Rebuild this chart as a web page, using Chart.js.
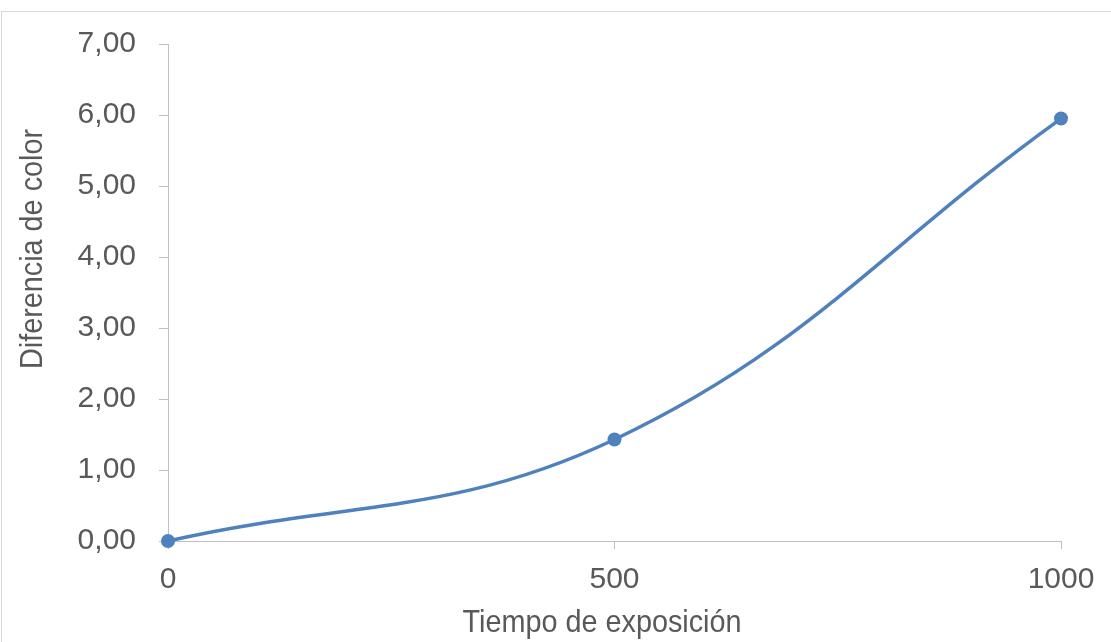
<!DOCTYPE html>
<html>
<head>
<meta charset="utf-8">
<script src="https://cdn.jsdelivr.net/npm/chart.js@4/dist/chart.umd.min.js"></script>
<style>
  html, body { margin: 0; padding: 0; background: #fff; }
  canvas { display: block; }
</style>
</head>
<body>
<canvas id="myChart" width="1111" height="642"></canvas>
<script>
// Tiempo de exposición vs. diferencia de color
const tiempos = [0, 500, 1000];
const diferencias = [0, 1.43, 5.95];
const yTicks = [0, 1, 2, 3, 4, 5, 6, 7];
const xTicks = [0, 500, 1000];

const xTitle = 'Tiempo de exposición';
const yTitle = 'Diferencia de color';

const textColor = '#595959';
const axisColor = '#bfbfbf';
const lineColor = '#4f81bd';
const fontFamily = '"Liberation Sans Narrow", "Arial Narrow", "Liberation Sans", sans-serif';

const ctx = document.getElementById('myChart').getContext('2d');

// white background and the light frame round the chart
const frame = {
  id: 'frame',
  beforeDraw(chart) {
    const c = chart.ctx;
    c.save();
    c.fillStyle = '#fff';
    c.fillRect(0, 0, chart.width, chart.height);
    c.strokeStyle = '#d9d9d9';
    c.lineWidth = 1;
    c.strokeRect(1.5, 11.5, chart.width + 100, chart.height + 100);
    c.restore();
  }
};

// axis titles, drawn a little narrower than the plain font
const axisTitles = {
  id: 'axisTitles',
  afterDraw(chart) {
    const c = chart.ctx;
    c.save();
    c.fillStyle = textColor;
    c.font = '32px ' + fontFamily;
    c.textAlign = 'center';
    c.textBaseline = 'alphabetic';
    c.save();
    c.translate(602, 631.5);
    c.scale(0.9, 1);
    c.fillText(xTitle, 0, 0);
    c.restore();
    c.translate(41.7, 249);
    c.rotate(-Math.PI / 2);
    c.scale(0.9, 1);
    c.fillText(yTitle, 0, 0);
    c.restore();
  }
};

const data = {
  datasets: [
    {
      label: 'Diferencia de color',
      data: tiempos.map((t, i) => ({x: t, y: diferencias[i]})),
      borderColor: lineColor,
      backgroundColor: lineColor,
      borderWidth: 3.5,
      tension: 0.4,
      pointRadius: 7,
      pointBorderWidth: 0,
      pointBackgroundColor: lineColor,
      clip: false,
    }
  ]
};

const myChart = new Chart(ctx, {
  type: 'line',
  data: data,
  plugins: [frame, axisTitles],
  options: {
    responsive: false,
    animation: false,
    layout: {
      padding: {left: 0, top: 44, right: 50, bottom: 0}
    },
    plugins: {
      legend: {display: false},
      tooltip: {enabled: false}
    },
    scales: {
      x: {
        type: 'linear',
        min: xTicks[0],
        max: xTicks[xTicks.length - 1],
        afterBuildTicks: (scale) => { scale.ticks = xTicks.map(v => ({value: v})); },
        afterFit: (scale) => {
          scale.height = 101;
          scale.paddingLeft = 0;
          scale.paddingRight = 0;
        },
        grid: {
          drawOnChartArea: false,
          drawTicks: true,
          tickLength: 8,
          color: axisColor,
        },
        border: {color: axisColor, width: 1},
        ticks: {
          color: textColor,
          padding: 13,
          maxRotation: 0,
          font: {family: fontFamily, size: 30},
          callback: (v) => String(v),
        }
      },
      y: {
        type: 'linear',
        min: yTicks[0],
        max: yTicks[yTicks.length - 1],
        afterBuildTicks: (scale) => { scale.ticks = yTicks.map(v => ({value: v})); },
        afterFit: (scale) => {
          scale.width = 168;
          scale.paddingTop = 0;
          scale.paddingBottom = 0;
        },
        grid: {
          drawOnChartArea: false,
          drawTicks: true,
          tickLength: 9,
          color: axisColor,
        },
        border: {color: axisColor, width: 1},
        ticks: {
          color: textColor,
          padding: 23,
          font: {family: fontFamily, size: 30},
          callback: (v) => v.toFixed(2).replace('.', ','),
        }
      }
    }
  }
});
</script>
</body>
</html>
